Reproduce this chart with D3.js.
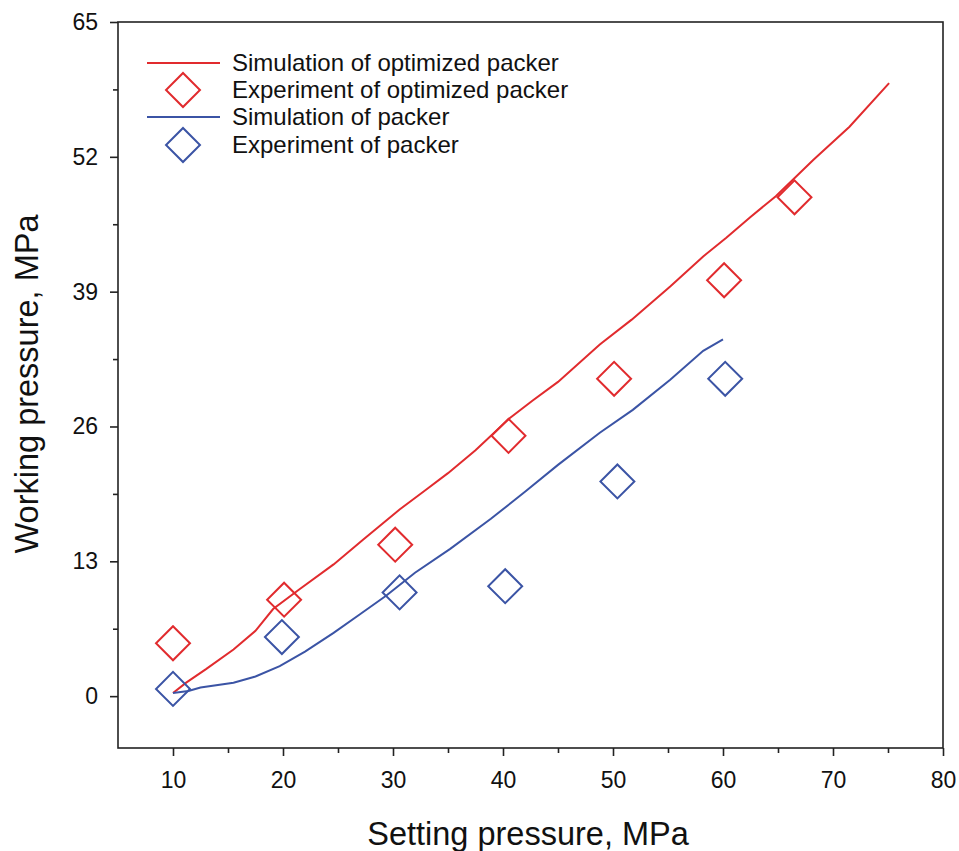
<!DOCTYPE html>
<html>
<head>
<meta charset="utf-8">
<script src="https://cdn.jsdelivr.net/npm/d3@7"></script>
<style>
  body { margin: 0; background: #fff; }
  svg { display: block; font-family: "Liberation Sans", Arial, sans-serif; }
</style>
</head>
<body>
<div id="chart"></div>
<script>
// values
const xTicks = [10, 20, 30, 40, 50, 60, 70, 80];
const yTicks = [0, 13, 26, 39, 52, 65];

const simOptX = [10, 11.2, 13, 15.5, 17.5, 19.1, 21.5, 24.6, 27.3, 30.6, 33, 35, 37.5, 40.6, 42.7, 45, 48.8, 51.7, 55.2, 58.2, 60.3, 62.5, 64.8, 68.2, 71.5, 75.1];
const simOptY = [0.3, 1.3, 2.6, 4.5, 6.3, 8.4, 10.3, 12.7, 15.1, 18.0, 19.9, 21.5, 23.7, 26.8, 28.5, 30.3, 33.9, 36.3, 39.5, 42.4, 44.2, 46.2, 48.2, 51.7, 54.9, 59.1];

const simX = [10, 11.4, 12.5, 15.5, 17.5, 19.7, 22, 24.6, 27, 29.4, 32, 35.2, 38.9, 42, 45, 48.8, 51.8, 55.2, 58.2, 60];
const simY = [0.3, 0.5, 0.84, 1.3, 1.9, 2.9, 4.3, 6.1, 7.9, 9.7, 11.9, 14.2, 17.1, 19.7, 22.3, 25.4, 27.6, 30.5, 33.3, 34.4];

const expOptX = [10, 20.1, 30.2, 40.5, 50.1, 60.1, 66.5];
const expOptY = [5.1, 9.3, 14.6, 25.1, 30.6, 40.1, 48.1];

const expX = [10, 19.9, 30.6, 40.2, 50.4, 60.2];
const expY = [0.7, 5.7, 10.0, 10.6, 20.7, 30.6];

const legendLabels = ['Simulation of optimized packer', 'Experiment of optimized packer', 'Simulation of packer', 'Experiment of packer'];

const red = '#e12b2e', blue = '#3b54a5';

const width = 959, height = 851;
const margin = {top: 22, right: 16, bottom: 103, left: 118};

const svg = d3.select('#chart').append('svg')
    .attr('width', width).attr('height', height);

const x = d3.scaleLinear().domain([5, 80]).range([margin.left, width - margin.right]);
const y = d3.scaleLinear().domain([-5, 65]).range([height - margin.bottom, margin.top]);

// frame
svg.append('rect')
    .attr('x', x(5)).attr('y', y(65))
    .attr('width', x(80) - x(5)).attr('height', y(-5) - y(65))
    .attr('fill', 'none').attr('stroke', '#222').attr('stroke-width', 1.6);

// minor ticks
svg.append('g')
    .attr('transform', `translate(0,${y(-5)})`)
    .call(d3.axisBottom(x).tickValues(d3.range(15, 80, 10)).tickSize(5).tickFormat(''))
    .call(g => g.select('.domain').remove())
    .selectAll('line').attr('stroke', '#222').attr('stroke-width', 1.6);
svg.append('g')
    .attr('transform', `translate(${x(5)},0)`)
    .call(d3.axisLeft(y).tickValues(d3.range(6.5, 65, 13)).tickSize(5).tickFormat(''))
    .call(g => g.select('.domain').remove())
    .selectAll('line').attr('stroke', '#222').attr('stroke-width', 1.6);

// major ticks
const xAxis = svg.append('g')
    .attr('transform', `translate(0,${y(-5)})`)
    .attr('font-size', 23)
    .attr('font-family', '"Liberation Sans", Arial, sans-serif')
    .call(d3.axisBottom(x).tickValues(xTicks).tickSize(8).tickPadding(16))
    .call(g => g.select('.domain').remove());
xAxis.selectAll('line').attr('stroke', '#222').attr('stroke-width', 1.6);
xAxis.selectAll('text').style('font-size', '23px').attr('fill', '#111');

const yAxis = svg.append('g')
    .attr('transform', `translate(${x(5)},0)`)
    .call(d3.axisLeft(y).tickValues(yTicks).tickSize(8).tickPadding(12))
    .call(g => g.select('.domain').remove());
yAxis.attr('font-size', 23).attr('font-family', '"Liberation Sans", Arial, sans-serif');
yAxis.selectAll('line').attr('stroke', '#222').attr('stroke-width', 1.6);
yAxis.selectAll('text').style('font-size', '23px').attr('fill', '#111');

// titles
svg.append('text')
    .attr('x', 528).attr('y', 845)
    .attr('text-anchor', 'middle').style('font-size', '32.5px').attr('fill', '#111')
    .text('Setting pressure, MPa');
svg.append('text')
    .attr('transform', 'translate(38,384) rotate(-90)')
    .attr('text-anchor', 'middle').style('font-size', '32.5px').attr('fill', '#111')
    .text('Working pressure, MPa');

// simulation lines
const line = d3.line().x(d => x(d[0])).y(d => y(d[1]));
svg.append('path')
    .datum(d3.zip(simOptX, simOptY))
    .attr('d', line).attr('fill', 'none').attr('stroke', red).attr('stroke-width', 2);
svg.append('path')
    .datum(d3.zip(simX, simY))
    .attr('d', line).attr('fill', 'none').attr('stroke', blue).attr('stroke-width', 2);

// experiment diamonds
const diamond = d3.symbol(d3.symbolSquare, 576);
svg.append('g').selectAll('path')
    .data(d3.zip(expOptX, expOptY)).join('path')
    .attr('d', diamond)
    .attr('transform', d => `translate(${x(d[0])},${y(d[1])}) rotate(45)`)
    .attr('fill', 'none').attr('stroke', red).attr('stroke-width', 2);
svg.append('g').selectAll('path')
    .data(d3.zip(expX, expY)).join('path')
    .attr('d', diamond)
    .attr('transform', d => `translate(${x(d[0])},${y(d[1])}) rotate(45)`)
    .attr('fill', 'none').attr('stroke', blue).attr('stroke-width', 2);

// legend
const legend = svg.append('g');
const rowY = [63, 90, 117, 145];
const colors = [red, red, blue, blue];
legendLabels.forEach((lab, i) => {
  if (i % 2 === 0) {
    legend.append('line')
      .attr('x1', 147).attr('x2', 220).attr('y1', rowY[i]).attr('y2', rowY[i])
      .attr('stroke', colors[i]).attr('stroke-width', 2);
  } else {
    legend.append('path')
      .attr('d', diamond)
      .attr('transform', `translate(183,${rowY[i]}) rotate(45)`)
      .attr('fill', 'none').attr('stroke', colors[i]).attr('stroke-width', 2);
  }
  legend.append('text')
    .attr('x', 232).attr('y', rowY[i] + 8)
    .style('font-size', '24px').attr('fill', '#111')
    .text(lab);
});
</script>
</body>
</html>
